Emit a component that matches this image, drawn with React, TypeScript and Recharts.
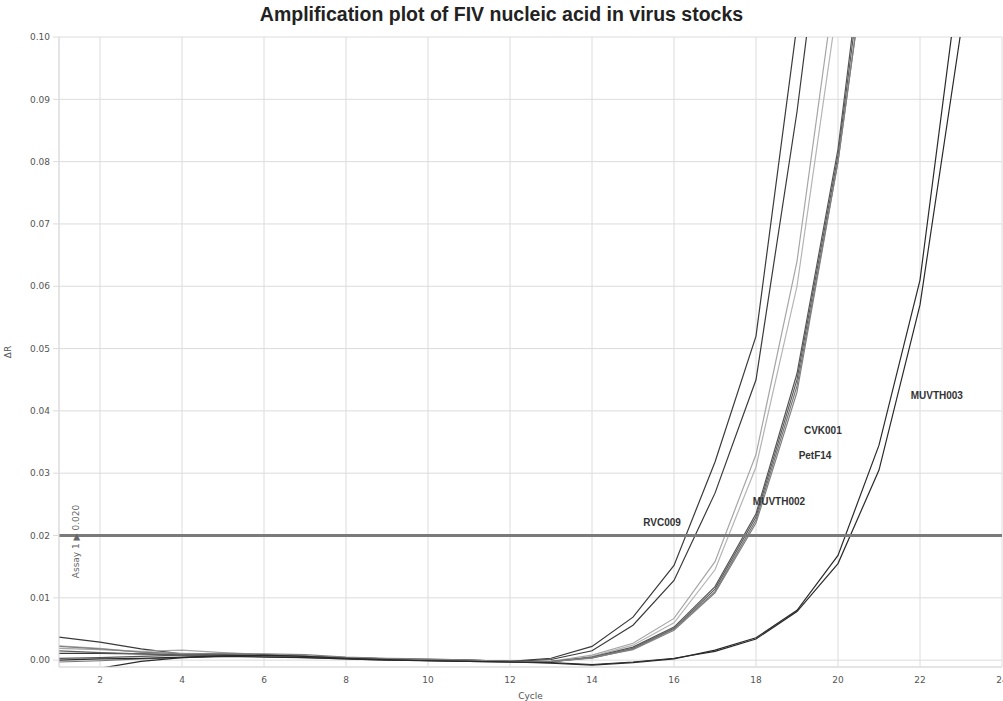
import React from "react";
import {
  LineChart,
  Line,
  XAxis,
  YAxis,
  CartesianGrid,
  ReferenceLine,
  ReferenceDot,
} from "recharts";

const cycles = [1, 2, 3, 4, 5, 6, 7, 8, 9, 10, 11, 12, 13, 14, 15, 16, 17, 18, 19, 20, 21, 22, 23, 24];

// delta R per cycle (values past 0.10 only keep the line going off the top)
const rvc009A = [0.0037, 0.0029, 0.0018, 0.001, 0.0008, 0.0007, 0.0005, 0.0003, 0.0001, 0.0001, 0.0, -0.0002, 0.0003, 0.0022, 0.0069, 0.0152, 0.0318, 0.052, 0.102, 0.18, null, null, null, null];
const rvc009B = [0.0011, 0.0011, 0.001, 0.0009, 0.0008, 0.0006, 0.0005, 0.0004, 0.0002, 0.0, -0.0001, -0.0002, 0.0001, 0.0015, 0.0056, 0.0128, 0.0268, 0.045, 0.088, 0.14, null, null, null, null];
const petF14A = [0.0019, 0.0017, 0.0014, 0.0016, 0.0012, 0.0009, 0.0007, 0.0004, 0.0002, 0.0001, -0.0001, -0.0003, -0.0002, 0.0008, 0.0027, 0.0067, 0.0158, 0.033, 0.064, 0.112, null, null, null, null];
const petF14B = [0.0023, 0.0019, 0.0013, 0.0011, 0.001, 0.0008, 0.0006, 0.0003, 0.0001, 0.0, -0.0001, -0.0002, -0.0003, 0.0006, 0.0024, 0.006, 0.0145, 0.031, 0.06, 0.106, null, null, null, null];
const cvk001A = [0.0003, 0.0004, 0.0006, 0.0008, 0.0009, 0.0008, 0.0006, 0.0004, 0.0002, 0.0001, 0.0, -0.0002, -0.0003, 0.0005, 0.0021, 0.0053, 0.0118, 0.0235, 0.046, 0.082, 0.135, null, null, null];
const cvk001B = [0.0015, 0.0012, 0.001, 0.0008, 0.0007, 0.0006, 0.0004, 0.0002, 0.0, -0.0001, -0.0002, -0.0003, -0.0002, 0.0004, 0.0019, 0.0051, 0.0114, 0.023, 0.045, 0.081, 0.132, null, null, null];
const muvth002A = [-0.0003, -0.0001, 0.0002, 0.0004, 0.0006, 0.0007, 0.0006, 0.0003, 0.0001, 0.0, -0.0001, -0.0002, -0.0002, 0.0003, 0.0018, 0.005, 0.011, 0.0225, 0.044, 0.08, 0.128, null, null, null];
const muvth002B = [0.0022, 0.0018, 0.0013, 0.001, 0.0011, 0.001, 0.0009, 0.0005, 0.0003, 0.0002, 0.0, -0.0002, -0.0003, 0.0004, 0.0017, 0.0048, 0.0108, 0.022, 0.043, 0.08, 0.128, null, null, null];
const muvth003A = [-0.004, -0.0013, -0.0002, 0.0004, 0.0006, 0.0005, 0.0004, 0.0002, 0.0, -0.0001, -0.0002, -0.0003, -0.0005, -0.0008, -0.0004, 0.0002, 0.0016, 0.0036, 0.008, 0.0168, 0.0345, 0.061, 0.112, 0.2];
const muvth003B = [0.0, 0.0002, 0.0003, 0.0005, 0.0007, 0.0008, 0.0006, 0.0003, 0.0001, -0.0001, -0.0002, -0.0003, -0.0004, -0.0007, -0.0003, 0.0003, 0.0014, 0.0034, 0.0078, 0.0155, 0.0305, 0.057, 0.101, 0.18];

const xTicks = [2, 4, 6, 8, 10, 12, 14, 16, 18, 20, 22, 24];
const yTicks = [0, 0.01, 0.02, 0.03, 0.04, 0.05, 0.06, 0.07, 0.08, 0.09, 0.1];
const threshold = 0.02;

// sample name labels placed in data space
const sampleLabels = [
  { name: "RVC009", cycle: 15.71, value: 0.0221 },
  { name: "MUVTH002", cycle: 18.56, value: 0.0255 },
  { name: "PetF14", cycle: 19.44, value: 0.0329 },
  { name: "CVK001", cycle: 19.63, value: 0.0368 },
  { name: "MUVTH003", cycle: 22.41, value: 0.0424 },
];

const series = [
  { key: "rvc009A", values: rvc009A, color: "#3a3a3a" },
  { key: "rvc009B", values: rvc009B, color: "#3a3a3a" },
  { key: "petF14A", values: petF14A, color: "#a6a6a6" },
  { key: "petF14B", values: petF14B, color: "#b4b4b4" },
  { key: "cvk001A", values: cvk001A, color: "#555555" },
  { key: "cvk001B", values: cvk001B, color: "#5e5e5e" },
  { key: "muvth002A", values: muvth002A, color: "#767676" },
  { key: "muvth002B", values: muvth002B, color: "#808080" },
  { key: "muvth003A", values: muvth003A, color: "#2a2a2a" },
  { key: "muvth003B", values: muvth003B, color: "#2a2a2a" },
];

const data = cycles.map((c, i) => {
  const row: Record<string, number | null> = { cycle: c };
  series.forEach((s) => {
    row[s.key] = s.values[i];
  });
  return row;
});

const tickStyle = { fontSize: 9, fill: "#555", fontFamily: "DejaVu Sans" };

export default function App() {
  return (
    <div style={{ position: "absolute", left: 0, top: 0, width: 1003, height: 701, overflow: "hidden", background: "#fff" }}>
      <div
        style={{
          position: "absolute",
          left: 0,
          top: 3,
          width: 1003,
          textAlign: "center",
          fontFamily: "Liberation Sans",
          fontWeight: "bold",
          fontSize: 19.5,
          color: "#222",
        }}
      >
        Amplification plot of FIV nucleic acid in virus stocks
      </div>
      <LineChart
        width={1020}
        height={701}
        data={data}
        margin={{ top: 37, right: 18, bottom: 0, left: 0 }}
      >
        <CartesianGrid stroke="#dcdcdc" strokeWidth={1} />
        <XAxis
          dataKey="cycle"
          type="number"
          domain={[1, 24]}
          ticks={xTicks}
          height={34}
          tickLine={false}
          tickSize={0}
          tickMargin={10}
          axisLine={{ stroke: "#dcdcdc" }}
          tick={tickStyle}
          label={{ value: "Cycle", position: "insideBottom", offset: 2, fontSize: 9, fill: "#555", fontFamily: "DejaVu Sans" }}
        />
        <YAxis
          type="number"
          domain={[-0.0011, 0.1]}
          allowDataOverflow
          ticks={yTicks}
          width={59}
          tickSize={6}
          tickMargin={3}
          tickLine={{ stroke: "#dcdcdc" }}
          axisLine={{ stroke: "#dcdcdc" }}
          tick={tickStyle}
          tickFormatter={(v: number) => v.toFixed(2)}
          label={{
            content: () => (
              <text x={11} y={352} transform="rotate(-90 11 352)" textAnchor="middle" fontSize={9} fill="#555" fontFamily="DejaVu Sans">
                ΔR
              </text>
            ),
          }}
        />
        {series.map((s) => (
          <Line
            key={s.key}
            dataKey={s.key}
            type="linear"
            stroke={s.color}
            strokeWidth={1.2}
            dot={false}
            connectNulls={false}
            isAnimationActive={false}
          />
        ))}
        <ReferenceLine
          y={threshold}
          stroke="#7a7a7a"
          strokeWidth={3}
          label={{
            content: (p: any) => {
              const vb = p.viewBox || {};
              const cx = (vb.x || 59) + 17;
              const cy = (vb.y || 536) + 6;
              return (
                <text x={cx} y={cy} transform={`rotate(-90 ${cx} ${cy})`} textAnchor="middle" dominantBaseline="central" fontSize={9} fill="#666" fontFamily="DejaVu Sans">
                  Assay 1 ▶ 0.020
                </text>
              );
            },
          }}
        />
        {sampleLabels.map((l) => (
          <ReferenceDot
            key={l.name}
            x={l.cycle}
            y={l.value}
            r={0.1}
            fill="none"
            stroke="none"
            label={{ value: l.name, position: "center", fontSize: 10, fontWeight: "bold", fill: "#333", fontFamily: "Liberation Sans" }}
          />
        ))}
      </LineChart>
    </div>
  );
}
